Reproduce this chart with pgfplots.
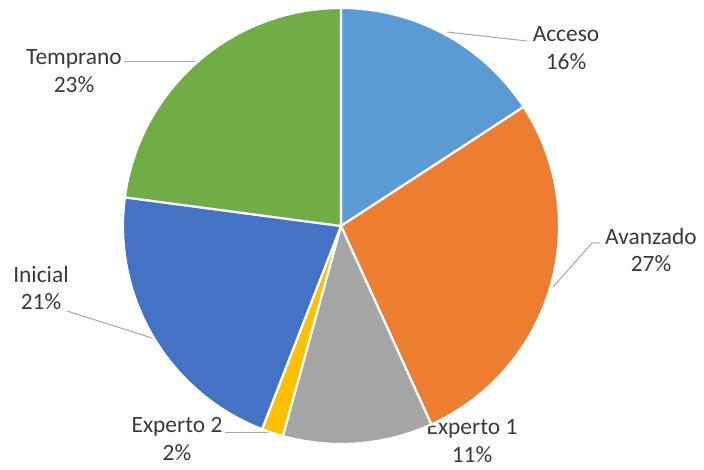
\documentclass[border=0pt]{standalone}
\usepackage{pgfplots}
\pgfplotsset{compat=1.18}
\usepackage{pgfplotstable}
\usepackage{fontspec}
\setmainfont{Carlito}
\definecolor{acceso}{HTML}{5B9BD5}
\definecolor{avanzado}{HTML}{ED7D31}
\definecolor{expuno}{HTML}{A5A5A5}
\definecolor{expdos}{HTML}{FFC000}
\definecolor{inicial}{HTML}{4472C4}
\definecolor{temprano}{HTML}{70AD47}
\definecolor{lbl}{HTML}{3A3A3A}
\definecolor{leader}{HTML}{A6A6A6}

% value = share in percent, start = cumulative share before the slice, idx = colour index
\pgfplotstableread{
name      value start idx
Acceso    15.8  0.0   1
Avanzado  27.4  15.8  2
Experto1  11.1  43.2  3
Experto2  1.6   54.3  4
Inicial   21.2  55.9  5
Temprano  22.9  77.1  6
}\piedata

\pgfdeclareplotmark{wedge}{%
  \pgfmathsetmacro{\angA}{90-3.6*\slst}%
  \pgfmathsetmacro{\angB}{90-3.6*(\slst+\slval)}%
  \pgfmathtruncatemacro{\ci}{\slidx}%
  \ifcase\ci\or\pgfsetfillcolor{acceso}\or\pgfsetfillcolor{avanzado}\or
    \pgfsetfillcolor{expuno}\or\pgfsetfillcolor{expdos}\or
    \pgfsetfillcolor{inicial}\or\pgfsetfillcolor{temprano}\fi
  \pgfsetstrokecolor{white}%
  \pgfsetlinewidth{2.2bp}%
  \pgfsetroundjoin
  \pgfpathmoveto{\pgfpointorigin}%
  \pgfpathlineto{\pgfpointpolar{\angA}{218bp}}%
  \pgfpatharc{\angA}{\angB}{218bp}%
  \pgfpathclose
  \pgfusepathqfillstroke
}

\begin{document}
\begin{tikzpicture}
\useasboundingbox (0,0) rectangle (704bp,470bp);
\begin{axis}[
  at={(0,0)}, anchor=south west,
  width=704bp, height=470bp, scale only axis,
  xmin=0, xmax=704, ymin=0, ymax=470,
  hide axis, clip=false,
]
\addplot[only marks, mark=wedge,
  visualization depends on={\thisrow{value}\as\slval},
  visualization depends on={\thisrow{start}\as\slst},
  visualization depends on={\thisrow{idx}\as\slidx},
] table[x expr=341, y expr=244] {\piedata};

\begin{scope}[every node/.style={font=\fontsize{23.5}{28}\selectfont, text=lbl, align=center, inner sep=1pt}]
\draw[leader, line width=1bp] (axis cs:447,438) -- (axis cs:527,429);
\draw[leader, line width=1bp] (axis cs:553,183) -- (axis cs:592,227) -- (axis cs:600,227);
\draw[leader, line width=1bp] (axis cs:67,159) -- (axis cs:152,132);
\draw[leader, line width=1bp] (axis cs:124,408) -- (axis cs:195,408);
\draw[leader, line width=1bp] (axis cs:225,37) -- (axis cs:273,37);
\node at (axis cs:566,422) {Acceso\\16\%};
\node at (axis cs:651,220) {Avanzado\\27\%};
\node at (axis cs:472,29) {Experto 1\\11\%};
\node at (axis cs:177,31) {Experto 2\\2\%};
\node at (axis cs:41,182) {Inicial\\21\%};
\node at (axis cs:74,399) {Temprano\\23\%};
\end{scope}
\end{axis}
\end{tikzpicture}
\end{document}
